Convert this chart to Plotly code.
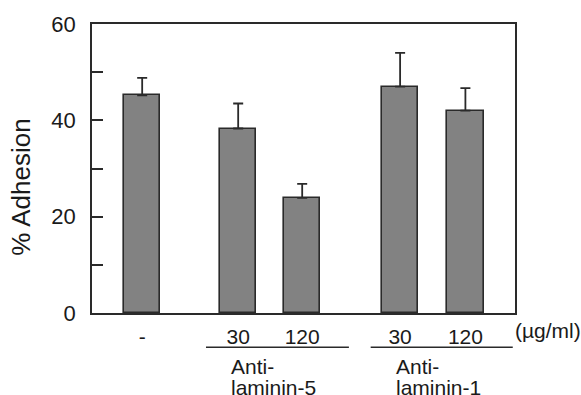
import plotly.graph_objects as go

# Data
categories = ["-", "30", "120", "30", "120"]
adhesion = [45.2, 38.3, 23.9, 47.0, 42.0]
error_up = [3.6, 5.2, 2.9, 7.0, 4.7]
group_labels = [("Anti-", "laminin-5"), ("Anti-", "laminin-1")]
y_tick_vals = [0, 10, 20, 30, 40, 50, 60]
y_tick_text = ["0", "", "20", "", "40", "", "60"]

# Layout (positions on the x axis)
x_pos = [0, 1.5, 2.5, 4.03, 5.05]
FONT = "Liberation Sans, Arial, Helvetica, sans-serif"
DARK = "#2a2a2a"

fig = go.Figure()
fig.add_trace(go.Bar(
    x=x_pos, y=adhesion, width=0.57,
    marker=dict(color="#828282", line=dict(color=DARK, width=1.6)),
    error_y=dict(type="data", symmetric=False, array=error_up,
                 arrayminus=[0] * len(error_up),
                 color=DARK, thickness=1.8, width=5),
    showlegend=False,
))

fig.update_layout(
    width=581, height=395,
    margin=dict(l=92, r=66, t=18, b=82),
    paper_bgcolor="white", plot_bgcolor="white",
    font=dict(family=FONT, color="#1a1a1a", size=21),
    bargap=0,
)
fig.update_xaxes(
    range=[-0.784, 5.825], tickvals=x_pos, ticktext=categories,
    showline=True, linecolor=DARK, linewidth=1.8, mirror=True,
    ticks="", showgrid=False, zeroline=False,
    tickfont=dict(size=21), ticklabelstandoff=4,
)
fig.update_yaxes(
    range=[0, 60], tickvals=y_tick_vals, ticktext=y_tick_text,
    showline=True, linecolor=DARK, linewidth=1.8, mirror=True,
    ticks="inside", ticklen=11, tickwidth=1.5, tickcolor=DARK,
    showgrid=False, zeroline=False,
    tickfont=dict(size=22), ticklabelstandoff=10,
)

# y-axis title
fig.add_annotation(text="% Adhesion", xref="paper", yref="paper",
                   x=-0.17, y=0.434, textangle=-90, showarrow=False,
                   font=dict(size=26), xanchor="center", yanchor="middle")
# unit label
fig.add_annotation(text="(µg/ml)", xref="paper", yref="paper",
                   x=0.995, y=-0.061, showarrow=False,
                   xanchor="left", yanchor="middle", font=dict(size=21))

# group lines and labels
line_spans = [(0.997, 3.23), (3.57, 5.79)]
label_left = [1.356, 3.93]
for (x0, x1), lx, (l1, l2) in zip(line_spans, label_left, group_labels):
    fig.add_shape(type="line", xref="x", yref="paper", x0=x0, x1=x1,
                  y0=-0.1186, y1=-0.1186, line=dict(color=DARK, width=1.5))
    fig.add_annotation(text=l1, xref="x", yref="paper", x=lx, y=-0.184,
                       showarrow=False, xanchor="left", yanchor="middle",
                       font=dict(size=21))
    fig.add_annotation(text=l2, xref="x", yref="paper", x=lx, y=-0.259,
                       showarrow=False, xanchor="left", yanchor="middle",
                       font=dict(size=21))

fig.write_html("out.html", config={"displayModeBar": False},
               post_script="document.body.style.margin='0';")
